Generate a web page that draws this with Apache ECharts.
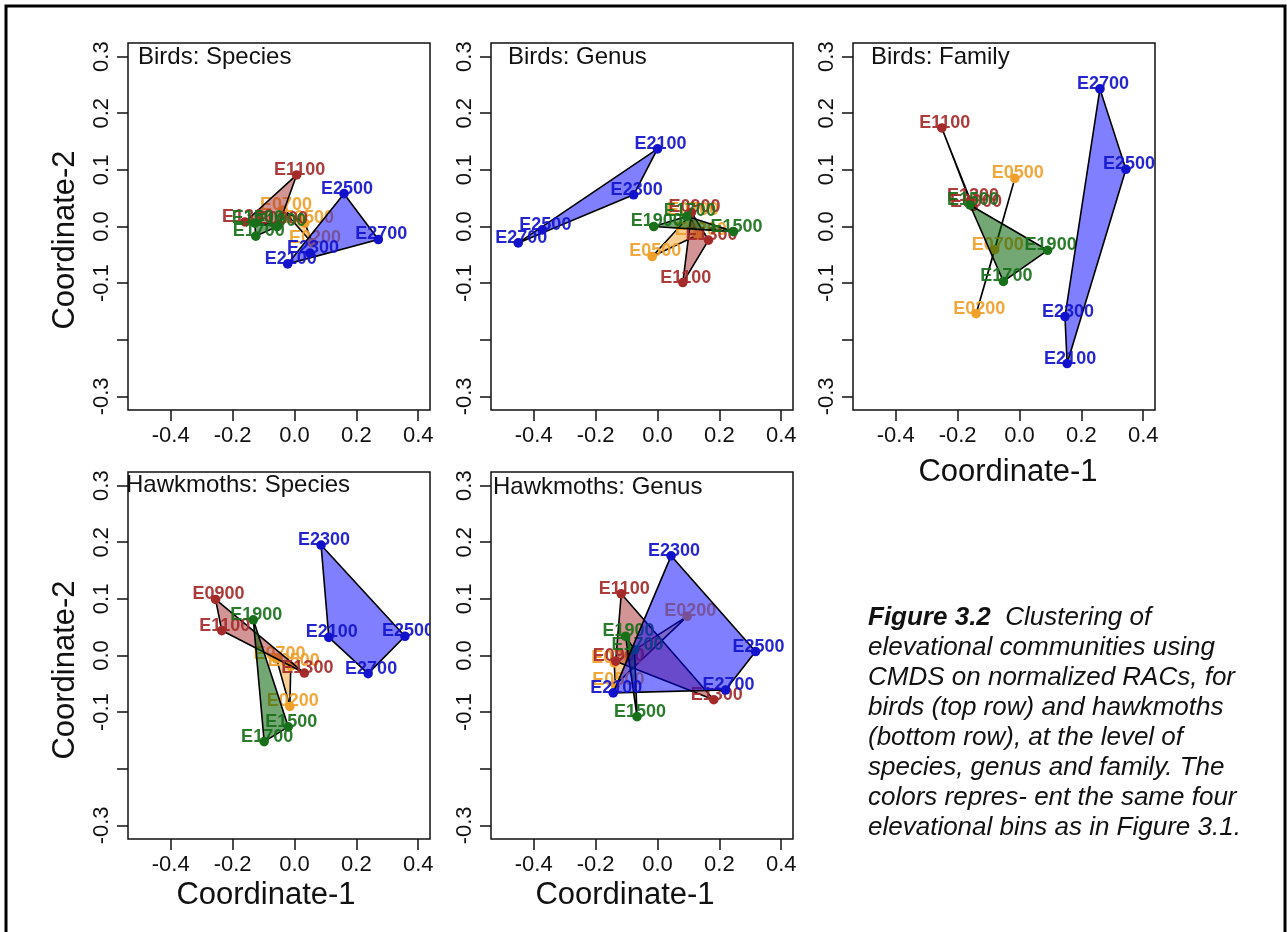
<!DOCTYPE html>
<html>
<head>
<meta charset="utf-8">
<script src="https://cdn.jsdelivr.net/npm/echarts@6.0.0/dist/echarts.min.js"></script>
<style>
  html, body { margin: 0; padding: 0; background: #fff; }
  #fig { width: 1287px; height: 932px; }
</style>
</head>
<body>
<div id="fig"></div>
<script>
// sites (elevation bins) and their colour group
const sites = ['E0200', 'E0500', 'E0700', 'E0900', 'E1100', 'E1300', 'E1500', 'E1700', 'E1900', 'E2100', 'E2300', 'E2500', 'E2700'];
const siteBin = [0, 0, 0, 1, 1, 1, 2, 2, 2, 3, 3, 3, 3];

// CMDS coordinates, same site order as above
const birdsSpeciesX = [0.057, 0.034, -0.037, -0.050, 0.007, -0.160, -0.128, -0.125, -0.056, -0.022, 0.050, 0.160, 0.271];
const birdsSpeciesY = [-0.029, 0.006, 0.029, 0.004, 0.091, 0.008, 0.006, -0.017, 0.000, -0.066, -0.047, 0.058, -0.023];

const birdsGenusX = [0.130, -0.017, 0.105, 0.110, 0.082, 0.165, 0.246, 0.095, -0.012, 0.000, -0.077, -0.372, -0.450];
const birdsGenusY = [-0.015, -0.053, 0.020, 0.025, -0.099, -0.024, -0.009, 0.018, 0.000, 0.137, 0.056, -0.006, -0.029];

const birdsFamilyX = [-0.140, -0.015, -0.080, -0.150, -0.251, -0.160, -0.160, -0.052, 0.091, 0.154, 0.147, 0.344, 0.260];
const birdsFamilyY = [-0.154, 0.085, -0.041, 0.035, 0.174, 0.045, 0.038, -0.097, -0.042, -0.242, -0.159, 0.101, 0.243];

const mothsSpeciesX = [-0.015, -0.012, -0.058, -0.255, -0.235, 0.032, -0.020, -0.098, -0.133, 0.111, 0.086, 0.357, 0.238];
const mothsSpeciesY = [-0.090, -0.019, -0.006, 0.099, 0.044, -0.031, -0.126, -0.152, 0.063, 0.032, 0.195, 0.034, -0.032];

const mothsGenusX = [0.096, -0.136, -0.140, -0.135, -0.117, 0.182, -0.066, -0.074, -0.103, -0.143, 0.044, 0.317, 0.220];
const mothsGenusY = [0.069, -0.052, -0.013, -0.010, 0.109, -0.078, -0.108, 0.010, 0.034, -0.066, 0.176, 0.007, -0.061];

const panelTitles = ['Birds: Species', 'Birds: Genus', 'Birds: Family', 'Hawkmoths: Species', 'Hawkmoths: Genus'];
const xTicks = [-0.4, -0.2, 0.0, 0.2, 0.4];
const yTicks = [-0.3, -0.2, -0.1, 0.0, 0.1, 0.2, 0.3];
const yTickLabels = [-0.3, -0.1, 0.0, 0.1, 0.2, 0.3];

const caption = [
  '{b|Figure 3.2}{i|  Clustering of}',
  '{i|elevational communities using}',
  '{i|CMDS on normalized RACs, for}',
  '{i|birds (top row) and hawkmoths}',
  '{i|(bottom row), at the level of}',
  '{i|species, genus and family. The}',
  '{i|colors repres- ent the same four}',
  '{i|elevational bins as in Figure 3.1.}'
].join('\n');

// ---- styling / layout ----
const FONT = '"Liberation Sans", Arial, Helvetica, sans-serif';
const binColors = ['#f0a02a', '#a52a2a', '#18701a', '#1212cc'];
const binFills = ['rgba(245,160,40,0.5)', 'rgba(165,42,42,0.5)', 'rgba(0,95,0,0.55)', 'rgba(0,0,255,0.5)'];
const panels = [
  { xs: birdsSpeciesX, ys: birdsSpeciesY, left: 128, top: 43, titleX: 138, titleY: 57 },
  { xs: birdsGenusX, ys: birdsGenusY, left: 491, top: 43, titleX: 508, titleY: 57 },
  { xs: birdsFamilyX, ys: birdsFamilyY, left: 853, top: 43, titleX: 871, titleY: 57 },
  { xs: mothsSpeciesX, ys: mothsSpeciesY, left: 128, top: 472, titleX: 126, titleY: 485 },
  { xs: mothsGenusX, ys: mothsGenusY, left: 491, top: 472, titleX: 493, titleY: 487 }
];
const BOX_W = 302, BOX_H = 367;
const X_MIN = -0.538, X_MAX = 0.438, Y_MIN = -0.324, Y_MAX = 0.324;

function hull(pts) {
  const p = pts.slice().sort((a, b) => a[0] - b[0] || a[1] - b[1]);
  if (p.length < 3) return p;
  const cross = (o, a, b) => (a[0] - o[0]) * (b[1] - o[1]) - (a[1] - o[1]) * (b[0] - o[0]);
  const lower = [], upper = [];
  for (const q of p) {
    while (lower.length >= 2 && cross(lower[lower.length - 2], lower[lower.length - 1], q) <= 0) lower.pop();
    lower.push(q);
  }
  for (let i = p.length - 1; i >= 0; i--) {
    const q = p[i];
    while (upper.length >= 2 && cross(upper[upper.length - 2], upper[upper.length - 1], q) <= 0) upper.pop();
    upper.push(q);
  }
  upper.pop(); lower.pop();
  return lower.concat(upper);
}

const grids = [], xAxes = [], yAxes = [], series = [], graphics = [];
const tickStyle = { color: '#111', width: 1.5 };

panels.forEach((pn, k) => {
  grids.push({ left: pn.left, top: pn.top, width: BOX_W, height: BOX_H, show: true,
    borderColor: '#111', borderWidth: 1.5, backgroundColor: '#fff' });
  xAxes.push({
    type: 'value', gridIndex: k, min: X_MIN, max: X_MAX, position: 'bottom',
    axisLine: { show: false, onZero: false }, splitLine: { show: false },
    axisTick: { show: true, length: 11, lineStyle: tickStyle, customValues: xTicks },
    axisLabel: { customValues: xTicks, formatter: v => v.toFixed(1), fontSize: 22, fontFamily: FONT, color: '#111', margin: 15 }
  });
  yAxes.push({
    type: 'value', gridIndex: k, min: Y_MIN, max: Y_MAX, position: 'left',
    axisLine: { show: false, onZero: false }, splitLine: { show: false },
    axisTick: { show: true, length: 11, lineStyle: tickStyle, customValues: yTicks },
    axisLabel: { customValues: yTickLabels, formatter: v => v.toFixed(1), rotate: 90, fontSize: 22, fontFamily: FONT, color: '#111', margin: 15 }
  });

  for (let b = 0; b < 4; b++) {
    const idx = sites.map((s, i) => i).filter(i => siteBin[i] === b);
    const pts = idx.map(i => [pn.xs[i], pn.ys[i]]);
    const poly = hull(pts);
    series.push({
      type: 'custom', xAxisIndex: k, yAxisIndex: k, z: 2 + b,
      data: idx.map(i => [pn.xs[i], pn.ys[i], i]),
      renderItem: (params, api) => {
        const cs = params.coordSys;
        const children = [];
        if (params.dataIndex === 0) {
          children.push({ type: 'polygon', z2: 0,
            shape: { points: poly.map(p => api.coord(p)) },
            style: { fill: binFills[b], stroke: '#000', lineWidth: 1.6, lineJoin: 'round' } });
        }
        const c = api.coord([api.value(0), api.value(1)]);
        children.push({ type: 'circle', z2: 1, shape: { cx: c[0], cy: c[1], r: 4.8 }, style: { fill: binColors[b] } });
        children.push({ type: 'text', z2: 2, x: c[0] + 3, y: c[1] - 5,
          style: { text: sites[api.value(2)], fill: binColors[b], opacity: 0.92, font: 'bold 18px ' + FONT,
            align: 'center', verticalAlign: 'middle' } });
        return { type: 'group', children,
          clipPath: { type: 'rect', shape: { x: cs.x, y: cs.y, width: cs.width, height: cs.height } } };
      }
    });
  }

  graphics.push({ type: 'text', x: pn.titleX, y: pn.titleY, z: 20,
    style: { text: panelTitles[k], font: '24px ' + FONT, fill: '#111', align: 'left', verticalAlign: 'middle' } });
});

// axis titles
const titleFont = '31px ' + FONT;
[[65, 240], [65, 670]].forEach(([x, y]) => graphics.push({ type: 'text', x, y, rotation: Math.PI / 2,
  style: { text: 'Coordinate-2', font: titleFont, fill: '#111', align: 'center', verticalAlign: 'middle' } }));
[[266, 895], [625, 895], [1008, 472]].forEach(([x, y]) => graphics.push({ type: 'text', x, y,
  style: { text: 'Coordinate-1', font: titleFont, fill: '#111', align: 'center', verticalAlign: 'middle' } }));

// caption
graphics.push({ type: 'text', x: 868, y: 603,
  style: { text: caption, fill: '#111', align: 'left', verticalAlign: 'top',
    rich: {
      b: { fontFamily: FONT, fontSize: 26, fontStyle: 'italic', fontWeight: 'bold', lineHeight: 30 },
      i: { fontFamily: FONT, fontSize: 26, fontStyle: 'italic', lineHeight: 30 }
    } } });

// outer frame
graphics.push({ type: 'rect', z: 30, shape: { x: 6, y: 6, width: 1279, height: 1000 },
  style: { fill: 'none', stroke: '#000', lineWidth: 3 } });

const chart = echarts.init(document.getElementById('fig'), null, { renderer: 'canvas' });
chart.setOption({
  animation: false,
  backgroundColor: '#fff',
  grid: grids,
  xAxis: xAxes,
  yAxis: yAxes,
  series: series,
  graphic: graphics
});
</script>
</body>
</html>
